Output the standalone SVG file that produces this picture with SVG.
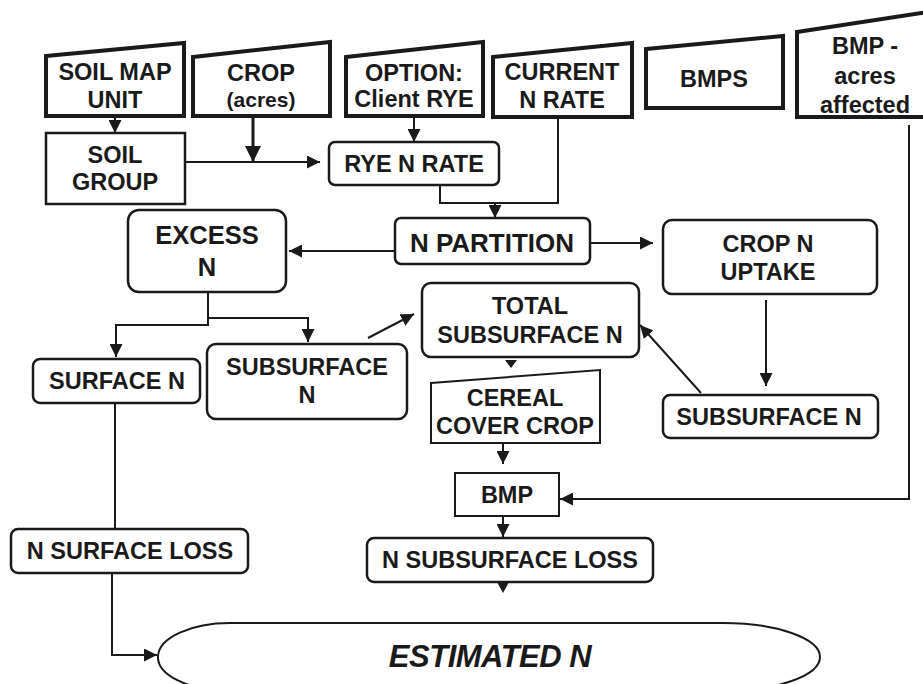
<svg xmlns="http://www.w3.org/2000/svg" width="923" height="684" viewBox="0 0 923 684">
<style>
text{font-family:"Liberation Sans",Arial,Helvetica,sans-serif;font-weight:bold;font-size:23.5px;fill:#1a1a1a;text-anchor:middle}
text.sm{font-size:21px}
text.lg{font-size:26px}
text.md{font-size:25.5px}
text.big{font-size:31px;font-style:italic;letter-spacing:-0.5px}
.in{fill:#fff;stroke:#1a1a1a;stroke-width:4;stroke-linejoin:miter}
.box{fill:#fff;stroke:#1a1a1a;stroke-width:2.5}
.thin{fill:#fff;stroke:#1a1a1a;stroke-width:2}
.c{fill:none;stroke:#1a1a1a;stroke-width:2}
.ah{fill:#1a1a1a}
</style>
<defs>
<marker id="arr" viewBox="0 0 13 13" refX="13" refY="6.5" markerWidth="13" markerHeight="13" markerUnits="userSpaceOnUse" orient="auto"><path d="M0,0 L13,6.5 L0,13 Z" fill="#1a1a1a"/></marker>
<marker id="arrBig" viewBox="0 0 16 16" refX="16" refY="8" markerWidth="16" markerHeight="16" markerUnits="userSpaceOnUse" orient="auto"><path d="M0,0 L16,8 L0,16 Z" fill="#1a1a1a"/></marker>
</defs>
<rect width="923" height="684" fill="#fff"/>
<g id="connectors">
<path class="c" d="M115,116 V133" marker-end="url(#arr)"/>
<path class="c" d="M253,116 V162" style="stroke-width:3" marker-end="url(#arrBig)"/>
<path class="c" d="M185,162 H320" marker-end="url(#arr)"/>
<path class="c" d="M414,116 V142" marker-end="url(#arr)"/>
<path class="c" d="M440,185 V203 H558 V117"/>
<path class="c" d="M495,203 V218" marker-end="url(#arr)"/>
<path class="c" d="M395,251 H289" marker-end="url(#arr)"/>
<path class="c" d="M590,243 H653" marker-end="url(#arr)"/>
<path class="c" d="M208,292 V325 H116 V357" marker-end="url(#arr)"/>
<path class="c" d="M208,318 H308 V342" marker-end="url(#arr)"/>
<path class="c" d="M368,338 L414,314" marker-end="url(#arr)"/>
<path class="c" d="M766,300 V386" marker-end="url(#arr)"/>
<path class="c" d="M701,393 L640,325" marker-end="url(#arr)"/>
<polygon class="ah" points="505,360 517,360 511,368"/>
<path class="c" d="M503,443 V464" marker-end="url(#arr)"/>
<path class="c" d="M909,125 V499 H560" marker-end="url(#arr)"/>
<path class="c" d="M503,516 V537" marker-end="url(#arr)"/>
<polygon class="ah" points="497,582 509,582 503,593"/>
<path class="c" d="M115,403 V529"/>
<path class="c" d="M112,573 V655 H157" marker-end="url(#arr)"/>
</g>
<g id="soil-map-unit">
<polygon class="in" points="46,56 184,43 184,116 46,116"/>
<text x="115" y="80">SOIL MAP</text>
<text x="115" y="108">UNIT</text>
</g>
<g id="crop-acres">
<polygon class="in" points="193,57 330,42 330,116 193,116"/>
<text x="261" y="81">CROP</text>
<text class="sm" x="261" y="107">(acres)</text>
</g>
<g id="option-client-rye">
<polygon class="in" points="346,57 483,42 483,116 346,116"/>
<text x="414" y="81">OPTION:</text>
<text x="414" y="107">Client RYE</text>
</g>
<g id="current-n-rate">
<polygon class="in" points="493,57 632,43 632,117 493,117"/>
<text x="562" y="80">CURRENT</text>
<text x="562" y="108">N RATE</text>
</g>
<g id="bmps">
<polygon class="in" points="646,49 783,36 783,108 646,108"/>
<text x="714" y="87">BMPS</text>
</g>
<g id="bmp-acres-affected">
<polygon class="in" points="935,11 797,32 797,117 935,117"/>
<text x="865" y="54">BMP -</text>
<text x="865" y="84">acres</text>
<text x="865" y="113">affected</text>
</g>
<g id="soil-group">
<rect class="box" x="46" y="133" width="139" height="71"/>
<text x="115" y="163">SOIL</text>
<text x="115" y="190">GROUP</text>
</g>
<g id="rye-n-rate">
<rect class="box" x="329" y="142" width="170" height="43" rx="6"/>
<text x="414" y="172">RYE N RATE</text>
</g>
<g id="n-partition">
<rect class="box" x="395" y="218" width="195" height="46" rx="6"/>
<text class="lg" x="492" y="252">N PARTITION</text>
</g>
<g id="excess-n">
<rect class="box" x="128" y="210" width="158" height="82" rx="11"/>
<text class="md" x="207" y="244">EXCESS</text>
<text class="md" x="207" y="276">N</text>
</g>
<g id="crop-n-uptake">
<rect class="box" x="663" y="220" width="214" height="74" rx="9"/>
<text x="768" y="252">CROP N</text>
<text x="768" y="280">UPTAKE</text>
</g>
<g id="total-subsurface-n">
<rect class="box" x="422" y="283" width="217" height="74" rx="9"/>
<text x="530" y="314">TOTAL</text>
<text x="530" y="343">SUBSURFACE N</text>
</g>
<g id="surface-n">
<rect class="box" x="33" y="359" width="167" height="44" rx="7"/>
<text x="117" y="389">SURFACE N</text>
</g>
<g id="subsurface-n-left">
<rect class="box" x="207" y="344" width="200" height="75" rx="9"/>
<text x="307" y="375">SUBSURFACE</text>
<text x="307" y="403">N</text>
</g>
<g id="subsurface-n-right">
<rect class="box" x="663" y="395" width="215" height="43" rx="7"/>
<text x="769" y="425">SUBSURFACE N</text>
</g>
<g id="cereal-cover-crop">
<polygon class="thin" points="431,383 600,370 600,443 431,443"/>
<text x="515" y="406">CEREAL</text>
<text x="515" y="434">COVER CROP</text>
</g>
<g id="bmp">
<rect class="thin" x="455" y="473" width="104" height="43"/>
<text x="507" y="503">BMP</text>
</g>
<g id="n-surface-loss">
<rect class="box" x="11" y="529" width="237" height="44" rx="7"/>
<text x="130" y="559">N SURFACE LOSS</text>
</g>
<g id="n-subsurface-loss">
<rect class="box" x="367" y="538" width="286" height="44" rx="7"/>
<text x="510" y="568">N SUBSURFACE LOSS</text>
</g>
<g id="estimated-n">
<path class="thin" d="M230,623 L723,623 A97,34 0 0 1 820,657 A97,34 0 0 1 723,691 L230,691 A72,34 0 0 1 158,656 A72,34 0 0 1 230,623 Z"/>
<text class="big" x="490" y="667">ESTIMATED N</text>
</g>
</svg>
